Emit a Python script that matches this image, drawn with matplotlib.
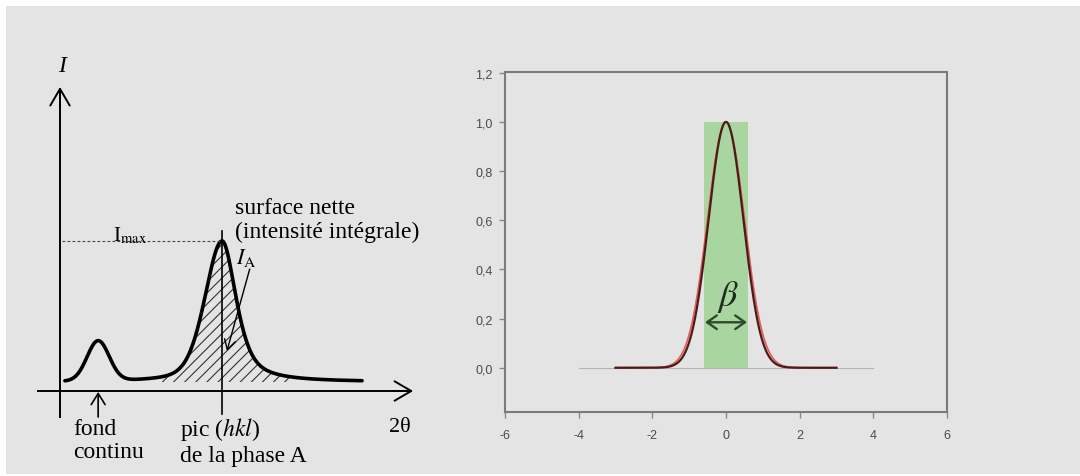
# -*- coding: utf-8 -*-
""" Schéma d'un diffractogramme et largeur intégrale d'un pic
"""

import numpy as np
import matplotlib.pyplot as plt
from matplotlib.patches import Rectangle

plt.rcParams['font.family'] = ['Liberation Serif', 'DejaVu Serif']
plt.rcParams['mathtext.fontset'] = 'stix'
plt.rcParams['axes.unicode_minus'] = False
plt.rcParams['hatch.linewidth'] = 0.8

# --- schéma de gauche (unités arbitraires) ---
fond = 6.0                      # niveau du fond continu
pics_centre = [10.9, 46.3]      # position 2theta des pics
pics_hauteur = [26.7, 94.0]     # hauteur au-dessus du fond
pics_hwhm_g = [3.7, 5.8]        # demi-largeur à mi-hauteur, côté gauche
pics_hwhm_d = [3.7, 4.8]        # demi-largeur à mi-hauteur, côté droit
pics_eta_g = [0.0, 0.35]        # part lorentzienne, côté gauche
pics_eta_d = [0.0, 0.65]        # part lorentzienne, côté droit
x_min, x_max = 1.4, 86.3        # étendue du diagramme

# --- profil de droite ---
beta = 1.18                     # largeur intégrale du pic
sigma_noir = 0.47
sigma_rouge = 0.50
x_prof_min, x_prof_max = -3.0, 3.0
x_zero = [-4.0, 4.0]
yticks = [0.0, 0.2, 0.4, 0.6, 0.8, 1.0, 1.2]
ytick_labels = ['0,0', '0,2', '0,4', '0,6', '0,8', '1,0', '1,2']
xticks = [-6, -4, -2, 0, 2, 4, 6]
xtick_labels = ['-6', '-4', '-2', '0', '2', '4', '6']


def pseudo_voigt(x, x0, h, w, eta):
    """ Profil pseudo-Voigt de hauteur h et demi-largeur w """
    g = np.exp(-np.log(2) * ((x - x0) / w) ** 2)
    l = 1.0 / (1.0 + ((x - x0) / w) ** 2)
    return h * (eta * l + (1 - eta) * g)


def diagramme(x):
    """ Fond continu + pics asymétriques """
    y = np.full_like(x, fond)
    for x0, h, wg, wd, eg, ed in zip(pics_centre, pics_hauteur, pics_hwhm_g,
                                     pics_hwhm_d, pics_eta_g, pics_eta_d):
        gauche = x < x0
        y += np.where(gauche, pseudo_voigt(x, x0, h, wg, eg),
                      pseudo_voigt(x, x0, h, wd, ed))
    return y


def fleche(ax, debut, fin, lw=1.4, tete=(0.6, 0.35), ms=20):
    ax.annotate('', xy=fin, xytext=debut,
                arrowprops=dict(arrowstyle='->,head_length=%g,head_width=%g' % tete,
                                lw=lw, color='k', mutation_scale=ms,
                                shrinkA=0, shrinkB=0))


fig = plt.figure(figsize=(10.8, 4.77), dpi=100)
fig.patch.set_facecolor('white')
fig.add_artist(Rectangle((6 / 1080, 2 / 477), 1, 1 - 9 / 477,
                         transform=fig.transFigure, facecolor='#e4e4e4',
                         edgecolor='none', zorder=-10))

# ---------------- schéma ----------------
ax = fig.add_axes([20 / 1080, 7 / 477, 420 / 1080, 420 / 477])
ax.set_xlim(-11.43, 108.57)
ax.set_ylim(-52, 228)
ax.axis('off')

# axes avec flèches
ax.plot([0, 0], [-17.3, 200], color='k', lw=1.4)
fleche(ax, (0, 190), (0, 202.7))
ax.plot([-6.3, 98], [0, 0], color='k', lw=1.4)
fleche(ax, (95, 0), (100.9, 0))

x = np.linspace(x_min, x_max, 1200)
y = diagramme(x)
i_pic = np.argmax(y)
masque = (x > 27) & (x < 67)
ax.fill_between(x, fond, y, where=masque, facecolor='none', hatch='///',
                edgecolor='#333333', linewidth=0)
ax.plot(x, y, color='k', lw=2.6, solid_capstyle='round')

# I max et trait du pic
ax.plot([0.6, x[i_pic]], [y[i_pic], y[i_pic]], color='#444444', lw=0.8,
        dashes=(2.5, 2))
ax.plot([x[i_pic], x[i_pic]], [106.7, -15.3], color='k', lw=1.2)
ax.text(15.2, y[i_pic] + 0.8, r'I$_{\mathrm{max}}$', fontsize=15,
        ha='left', va='baseline')

ax.text(0.6, 216.7, 'I', fontsize=17, style='italic', ha='center', va='center')
ax.text(50.0, 114.3, 'surface nette\n(intensité intégrale)', fontsize=17,
        ha='left', va='center', linespacing=1.15)
ax.text(53.2, 89.5, r'$I_{\mathrm{A}}$', fontsize=16, ha='center', va='center')
fleche(ax, (54.2, 81.3), (47.7, 26.7), lw=1.0, tete=(0.35, 0.2), ms=20)

fleche(ax, (pics_centre[0], -17.3), (pics_centre[0], -0.6), lw=1.2,
       tete=(0.4, 0.25), ms=20)
ax.text(3.7, -32.5, 'fond\ncontinu', fontsize=17, ha='left', va='center',
        linespacing=1.15)
ax.text(34.3, -33, 'pic ($hkl$)\nde la phase A', fontsize=17, ha='left',
        va='center', linespacing=1.15)
ax.text(94.0, -24, '2θ', fontsize=16, ha='left', va='center')

# ---------------- profil gaussien ----------------
ax2 = fig.add_axes([505 / 1080, 64 / 477, 442 / 1080, 340 / 477])
ax2.set_facecolor('none')
ax2.set_xlim(-6, 6)
ax2.set_ylim(-0.18, 1.203)

ax2.add_patch(Rectangle((-beta / 2, 0), beta, 1.0, facecolor='#a9d6a0',
                        edgecolor='none', zorder=1))
ax2.plot(x_zero, [0, 0], color='#b4b4b4', lw=0.8, zorder=2)

xp = np.linspace(x_prof_min, x_prof_max, 400)
ax2.plot(xp, np.exp(-xp ** 2 / (2 * sigma_rouge ** 2)), color='#e45a5a',
         lw=1.2, zorder=3)
ax2.plot(xp, np.exp(-xp ** 2 / (2 * sigma_noir ** 2)), color='#4a1c18',
         lw=1.6, zorder=4)

ax2.annotate('', xy=(beta / 2 - 0.02, 0.185), xytext=(-beta / 2 + 0.02, 0.185),
             arrowprops=dict(arrowstyle='<->,head_length=0.5,head_width=0.35',
                             lw=1.7, color='#2c4a2c', mutation_scale=14,
                             shrinkA=0, shrinkB=0), zorder=5)
ax2.text(0.05, 0.29, r'$\beta$', fontsize=26, color='#1e2e1e',
         ha='center', va='center', zorder=5)

ax2.set_xticks(xticks)
ax2.set_xticklabels(xtick_labels)
ax2.set_yticks(yticks)
ax2.set_yticklabels(ytick_labels)
for s in ax2.spines.values():
    s.set_color('#7a7a7a')
    s.set_linewidth(1.5)
ax2.tick_params(direction='out', length=4, width=1, color='#8a8a8a',
                labelcolor='#4a4a4a', labelsize=9)
ax2.tick_params(axis='x', pad=8)
ax2.tick_params(axis='y', pad=5)
for lab in ax2.get_xticklabels() + ax2.get_yticklabels():
    lab.set_family(['Liberation Sans', 'DejaVu Sans'])

fig.savefig('out.png', dpi=100)
